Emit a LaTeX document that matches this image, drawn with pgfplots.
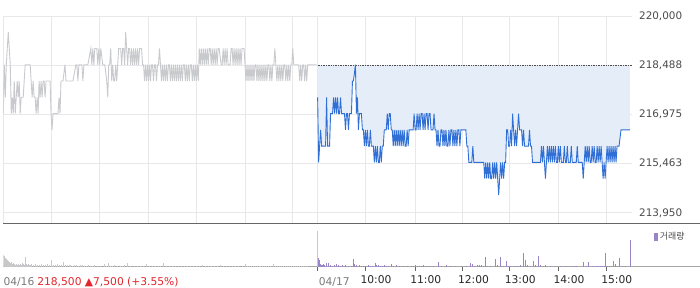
\documentclass[border=0pt]{standalone}
\usepackage{pgfplots}
\pgfplotsset{compat=1.18}
\usepackage{pgfplotstable}
\usepgfplotslibrary{fillbetween}
\usepackage{fontspec}
\setmainfont{DejaVu Sans}
\newfontfamily\kr{Noto Sans CJK KR}
\definecolor{gridc}{HTML}{E8E8EA}
\definecolor{grayline}{HTML}{C9CACE}
\definecolor{blueline}{HTML}{2F6FD6}
\definecolor{fillblue}{HTML}{E5EDF8}
\definecolor{volgray}{HTML}{C8C8CA}
\definecolor{volpurple}{HTML}{9A86C6}
\definecolor{labgray}{HTML}{4A4A4A}
\definecolor{datec}{HTML}{7A7A7A}
\definecolor{redc}{HTML}{E2262B}

\pgfplotstableread{
x y
0 217000
1 218500
2 217500
3 218500
4 219000
5 219500
6 219000
7 218500
8 217000
9 217500
10 217000
11 218000
12 217000
13 217500
14 218000
15 217500
16 218000
17 217000
18 217500
20 217500
21 218000
22 218500
23 218500
27 218500
28 218000
29 217500
30 218000
31 217500
32 217500
33 217000
34 217500
35 217000
36 218000
37 217500
38 218000
39 217500
40 218000
41 218000
42 217500
43 218000
44 218000
47 218000
48 217000
49 216500
50 217000
51 217000
55 217000
56 217500
57 217000
58 218000
60 218000
62 218500
63 218000
67 218000
70 218000
73 218500
74 218500
75 218000
76 218500
79 218500
80 218000
81 218500
85 218500
88 219000
89 218500
90 219000
91 218500
92 219000
94 219000
95 218500
96 219000
97 218500
98 219000
100 218500
102 218500
104 218000
105 217500
106 218500
107 218500
108 219000
109 218000
110 218500
111 218000
112 218000
113 218500
114 218000
115 218500
116 219000
118 219000
119 218500
120 219000
121 219000
122 218500
123 219500
124 219000
125 218500
126 219000
127 219000
128 218500
129 219000
130 218500
131 219000
132 218500
133 219000
134 218500
135 219000
136 218500
137 219000
139 219000
140 218500
141 218500
142 218000
143 218500
144 218000
145 218500
146 218000
147 218500
148 218000
149 218500
150 218500
151 218000
152 218500
153 218500
154 218000
155 218500
156 218500
157 219000
158 218500
159 218000
160 218500
161 218000
162 218500
163 218000
164 218500
165 218000
166 218500
167 218500
168 218000
169 218500
170 218000
171 218500
172 218000
173 218500
174 218000
175 218500
176 218000
177 218500
178 218000
179 218500
180 218000
181 218500
182 218500
183 218000
184 218500
185 218000
186 218500
187 218000
188 218500
189 218500
190 218000
191 218500
192 218000
193 218500
194 218000
195 218500
196 218000
197 219000
198 218500
199 219000
200 218500
201 219000
202 218500
203 219000
204 218500
205 219000
206 218500
207 219000
208 219000
209 218500
210 219000
211 218500
212 219000
213 218500
214 219000
215 218500
216 219000
217 219000
219 218500
220 218500
221 219000
222 218500
223 219000
224 218500
225 219000
226 218500
228 218500
229 219000
230 219000
231 218500
232 219000
233 218500
234 219000
235 218500
236 219000
237 218500
238 219000
239 218500
240 219000
242 219000
243 218500
244 218000
245 218500
246 218000
247 218500
248 218000
249 218500
250 218000
251 218500
252 218000
253 218500
254 218500
255 218000
256 218500
257 218000
258 218500
259 218000
260 218500
261 218000
262 218500
263 218000
264 218500
265 218000
266 218500
267 218500
268 218000
269 218500
270 218000
271 218500
272 218500
273 219000
274 218500
275 218000
276 218500
277 218000
278 218500
279 218000
280 218500
281 218000
282 218500
283 218500
284 218000
285 218500
286 218000
287 218500
288 218000
289 218500
290 218500
291 219000
292 218500
297 218500
298 218000
299 218500
300 218000
301 218500
302 218500
303 218000
304 218500
305 218000
306 218500
308 218500
315 218500
}\dayone

\pgfplotstableread{
x y
316 217500
317 215500
319 216500
320 216000
322 216000
324 216000
325 217500
326 216000
328 216000
329 217000
331 217000
332 217500
333 217000
334 217500
335 217000
336 217500
337 217000
338 217000
339 217500
340 217000
341 217000
343 217000
344 216500
345 217000
346 217000
347 216500
348 217000
350 217000
351 218000
352 218000
354 218500
355 217000
356 217500
357 216500
358 217000
360 217000
361 216500
362 216500
363 216000
364 216500
365 216000
366 216500
367 216000
368 216000
369 216500
370 216000
372 216000
373 215500
374 216000
375 215500
376 216000
377 215500
378 215500
379 216000
380 215500
381 216000
382 216000
383 216500
385 216500
386 217000
387 216500
388 217000
389 217000
390 216500
391 216500
392 216000
393 216500
394 216000
395 216500
396 216000
397 216500
398 216000
399 216500
400 216000
401 216500
402 216000
403 216500
404 216000
405 216000
406 216500
407 216000
408 216500
410 216500
412 216500
413 217000
414 216500
415 216500
416 217000
417 216500
418 217000
419 216500
420 217000
421 217000
422 216500
423 217000
424 216500
425 217000
426 217000
427 216500
428 217000
429 217000
430 216500
432 216500
433 217000
434 216500
435 216500
436 216000
437 216500
438 216000
439 216000
440 216500
441 216500
442 216000
443 216500
444 216000
445 216500
446 216000
447 216000
448 216500
449 216000
450 216500
451 216500
452 216000
453 216500
454 216000
455 216500
456 216000
457 216500
458 216500
459 216000
460 216500
463 216500
465 216500
466 216000
467 216000
468 215500
471 215500
472 216000
473 215500
483 215500
484 215000
485 215500
486 215000
487 215500
488 215000
489 215500
490 215000
491 215000
492 215500
493 215000
494 215500
495 215000
496 215500
497 215000
498 214500
499 215000
500 215500
501 215000
502 215500
503 215000
504 215500
505 215500
506 216500
507 216500
508 216000
509 216000
510 216500
511 216000
512 217000
513 216500
514 216000
515 216500
516 216000
517 216500
518 217000
519 216500
521 216500
522 216000
523 216500
524 216000
528 216000
529 216500
530 216000
531 216000
532 215500
540 215500
541 216000
542 215500
543 216000
544 215500
545 215000
546 215500
547 216000
548 215500
549 216000
550 215500
551 216000
552 215500
553 216000
554 215500
555 216000
556 215500
557 215500
558 216000
559 215500
560 216000
561 215500
563 215500
564 216000
565 215500
566 215500
567 216000
568 215500
570 215500
571 216000
572 215500
576 215500
577 216000
578 215500
582 215500
583 215000
584 215500
585 216000
586 215500
587 216000
588 215500
589 216000
590 215500
591 215500
592 216000
593 215500
594 216000
595 215500
596 215500
597 216000
598 215500
599 216000
600 215500
601 216000
602 215500
603 215000
604 215500
605 215000
606 215500
607 216000
608 215500
609 216000
610 215500
611 216000
612 215500
613 216000
614 215500
615 216000
616 215500
617 216000
619 216000
621 216500
630 216500
}\daytwo

\pgfplotstableread{
x y
0 12
1 11
2 9
3 8
4 7
5 6
6 5
7 4
8 5
9 3
10 4
11 3
12 2
13 3
14 2
15 3
16 2
17 3
18 2
19 4
20 3
21 2
22 10
23 3
24 2
25 3
26 2
27 2
28 3
30 2
32 3
34 2
36 2
38 3
40 2
42 2
44 3
46 2
48 7
50 2
52 2
54 3
56 2
58 2
60 5
62 2
64 2
66 2
68 2
70 1
72 2
74 2
76 1
78 2
80 2
82 1
84 1
86 2
88 1
90 1
92 2
95 1
98 1
102 3
104 1
106 4
108 1
110 1
112 2
115 1
118 1
120 1
122 2
125 4
128 1
132 1
135 1
138 1
141 1
144 3
147 1
150 1
153 1
156 1
158 1
161 4
164 1
167 1
170 1
173 1
176 1
179 1
182 1
185 1
188 1
191 1
194 1
197 1
200 2
203 1
206 1
209 1
212 1
215 1
218 2
221 1
224 1
227 1
230 1
233 1
236 1
240 1
243 3
245 1
247 1
249 1
251 1
253 1
255 1
257 1
259 1
261 1
263 1
265 1
267 1
269 1
272 3
274 1
276 1
278 1
280 1
282 1
284 1
286 1
288 1
290 1
292 1
294 1
296 1
298 1
300 1
302 1
304 1
306 1
}\volone

\pgfplotstableread{
x y
317 9
318 7
319 3
320 2
321 2
322 3
323 2
325 4
327 4
329 2
331 1
333 2
335 3
337 2
339 1
341 2
344 2
347 1
350 1
352 8
353 3
355 2
358 2
360 1
362 1
364 1
367 2
369 1
371 1
374 4
375 2
377 2
379 1
381 1
383 2
385 1
387 1
390 3
392 1
395 2
398 1
402 1
406 1
410 1
412 1
414 2
416 1
418 1
420 1
422 2
425 1
428 1
432 1
437 5
440 1
445 2
450 1
455 1
461 1
466 1
470 4
472 3
474 1
477 2
479 2
481 2
483 1
485 10
487 1
490 1
495 8
497 2
500 10
503 1
506 6
508 1
510 1
514 1
517 1
520 2
523 14
525 7
527 2
530 1
533 6
535 2
538 11
540 2
543 1
545 2
550 1
555 1
560 1
566 1
571 1
574 1
576 1
583 5
586 1
588 5
592 1
596 1
598 1
600 1
602 1
604 1
605 14
607 1
609 1
611 1
613 6
615 3
617 1
619 9
622 1
625 1
630 27
}\voltwo

\begin{document}
\begin{tikzpicture}
\path (0bp,0bp) rectangle (700bp,289bp);
\draw[color=black!60, line width=0.8bp] (0bp,64bp) -- (700bp,64bp);
\draw[color=black!35, line width=0.8bp] (0bp,21bp) -- (700bp,21bp);

\begin{axis}[
  at={(0bp,64bp)}, anchor=south west,
  scale only axis, width=632bp, height=209bp,
  xmin=0, xmax=632, ymin=213613, ymax=220000,
  scaled y ticks=false,
  axis line style={draw=none},
  major tick length=0pt,
  xtick={0,48,97,146,194,243,291,316,364,414,462,509,558,606},
  xticklabels={},
  ytick={213950,215463,216975,218488,220000},
  yticklabels={{213,950},{215,463},{216,975},{218,488},{220,000}},
  yticklabel pos=right,
  yticklabel style={anchor=west, inner sep=0pt, xshift=7bp, font=\fontsize{10.5}{12}\selectfont, text=labgray},
  grid=major,
  grid style={color=gridc, line width=0.8bp},
]
\addplot[color=grayline, line width=0.9bp] table {\dayone};
\addplot[name path=price, draw=none, forget plot] table {\daytwo};
\addplot[name path=ref, draw=none, forget plot] coordinates {(316,218488) (630,218488)};
\addplot[fill=fillblue, draw=none] fill between[of=price and ref];
\addplot[color=black!70, densely dotted, line width=0.7bp] coordinates {(316,218488) (632,218488)};
\addplot[color=blueline, line width=0.9bp] table {\daytwo};
\end{axis}

\begin{axis}[
  at={(0bp,21bp)}, anchor=south west,
  scale only axis, width=632bp, height=43bp,
  xmin=0, xmax=632, ymin=0, ymax=43,
  axis line style={draw=none},
  ytick=\empty,
  xtick={316,364,414,462,509,558,606},
  xticklabels={{},10:00,11:00,12:00,13:00,14:00,15:00},
  xtick pos=bottom,
  tick align=outside,
  major tick length=4bp,
  tick style={color=black!60, line width=0.8bp},
  xticklabel style={anchor=base west, inner sep=0pt, xshift=-5bp, yshift=-13bp, font=\fontsize{10.8}{12}\selectfont, text=black!85},
  legend style={draw=none, fill=none, at={(1.030,0.70)}, anchor=west, font=\kr\fontsize{9}{10}\selectfont, text=labgray},
  legend cell align=left,
]
\addplot[ycomb, color=volgray, line width=0.9bp, forget plot] table {\volone};
\addplot[color=volgray, line width=0.8bp, forget plot] coordinates {(316,0) (316,36)};
\addplot[ycomb, color=volpurple, line width=0.9bp,
  legend image code/.code={\fill[volpurple] (0bp,-3.5bp) rectangle (3bp,3.5bp);}] table {\voltwo};
\addlegendentry{거래량}
\end{axis}
\node[anchor=base west, inner sep=0pt, text=datec, font=\fontsize{10.8}{12}\selectfont] at (0bp,2bp) {04/16};
\node[anchor=base west, inner sep=0pt, text=redc, font=\fontsize{10.8}{12}\selectfont] at (34bp,2bp) {218,500 ▲7,500 (+3.55\%)};
\node[anchor=base west, inner sep=0pt, text=datec, font=\fontsize{10.8}{12}\selectfont] at (317bp,2bp) {04/17};
\end{tikzpicture}
\end{document}
